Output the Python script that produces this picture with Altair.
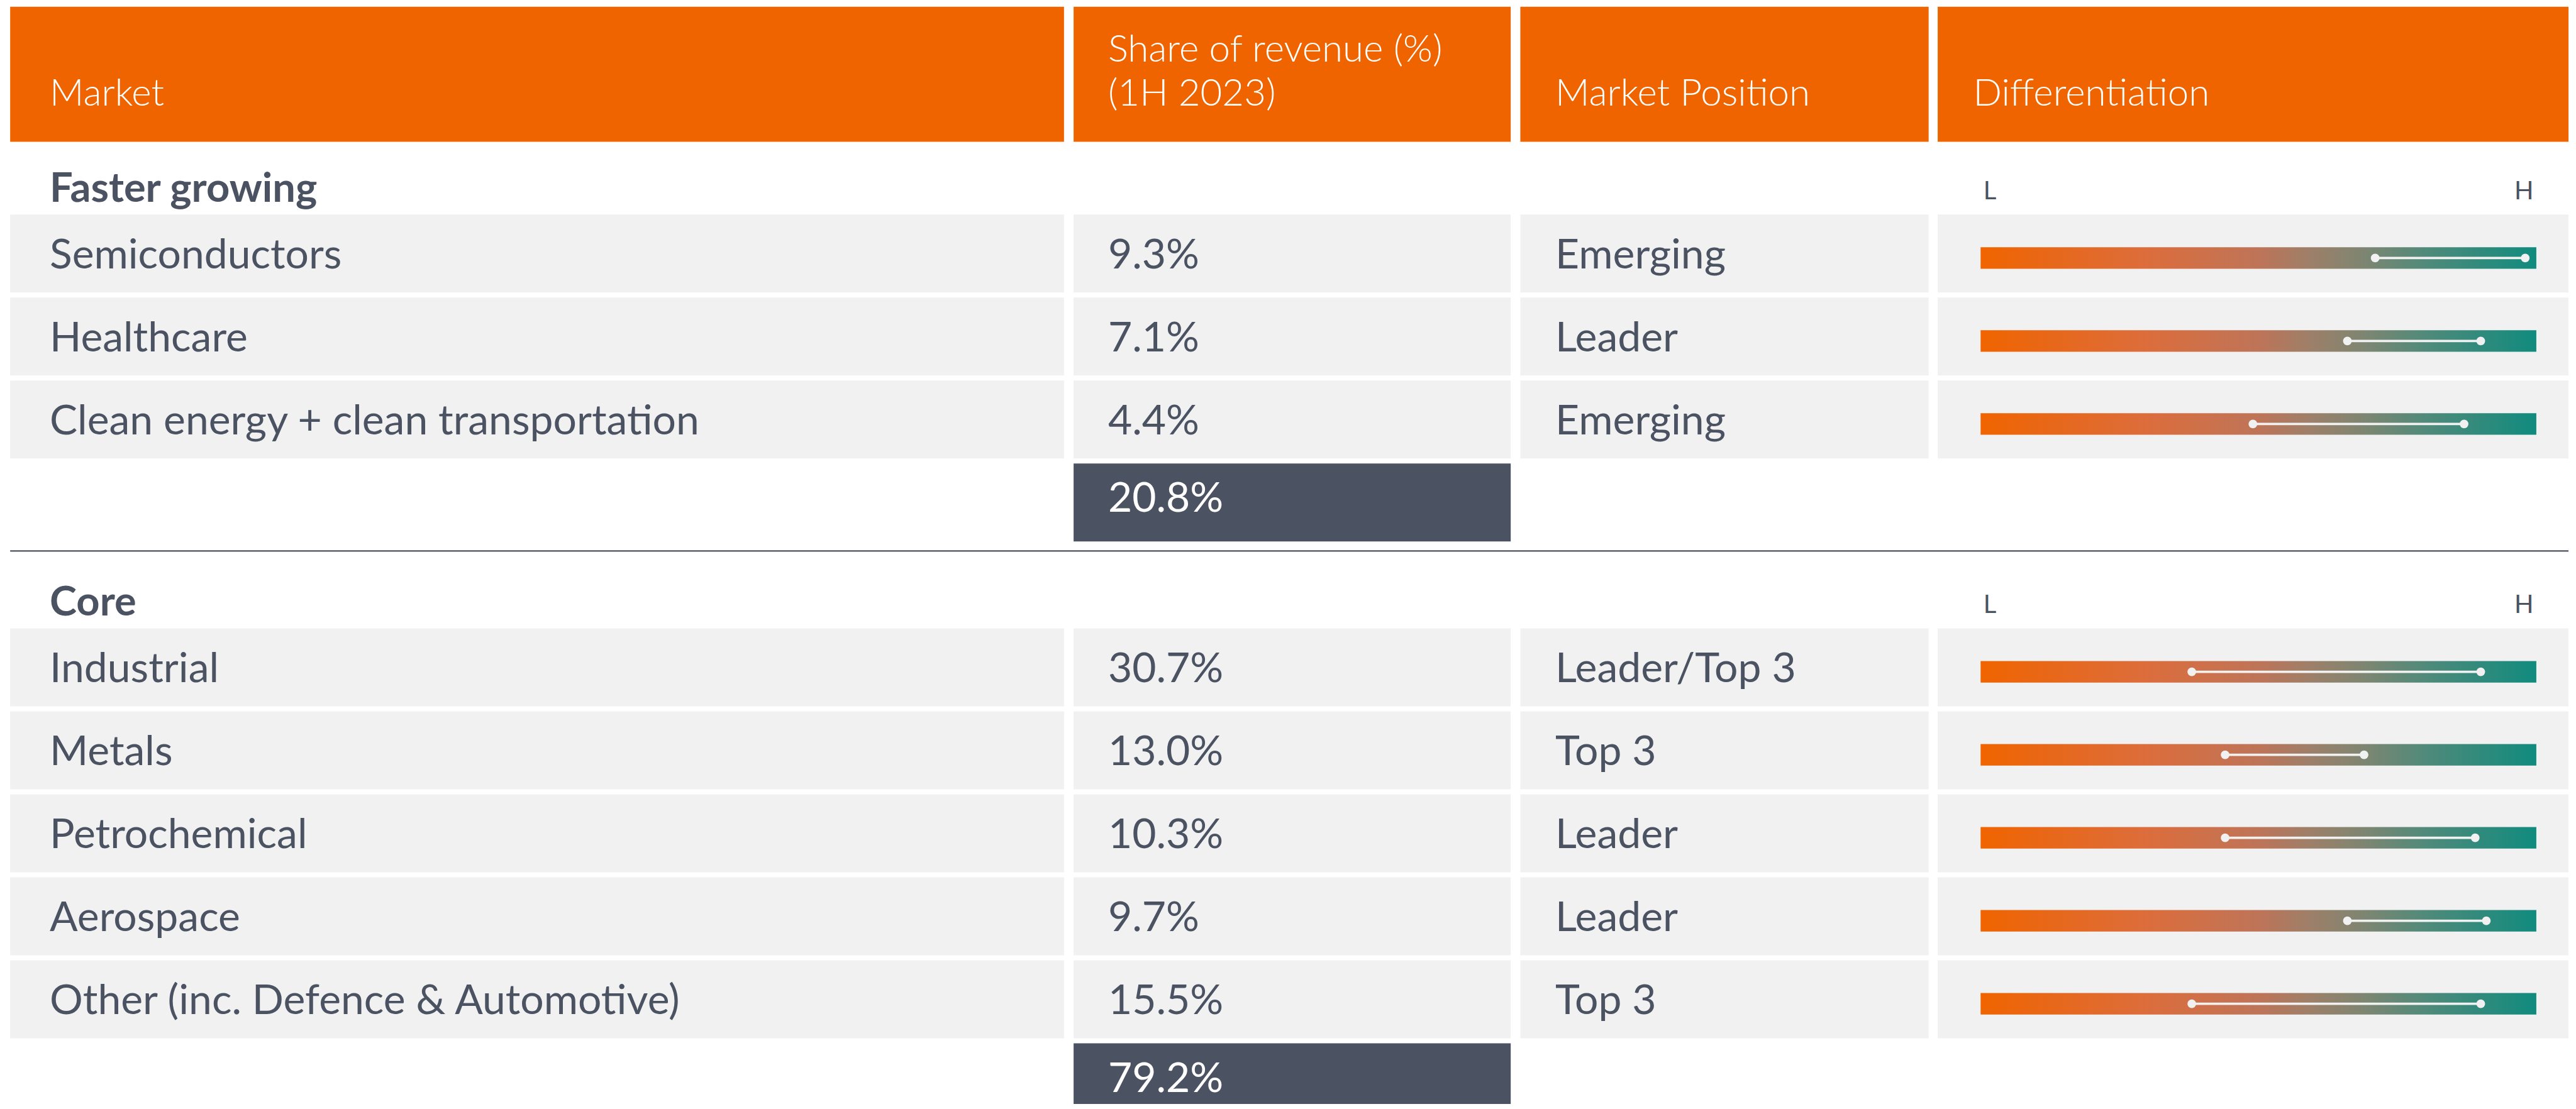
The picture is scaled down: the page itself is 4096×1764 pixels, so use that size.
import altair as alt
import pandas as pd

# ---------------- data ----------------
header_lines = [["Market"], ["Share of revenue (%)", "(1H 2023)"], ["Market Position"], ["Differentiation"]]
section_titles = ["Faster growing", "Core"]
scale_labels = ["L", "H"]

markets_fast = ["Semiconductors", "Healthcare", "Clean energy + clean transportation"]
share_fast = [9.3, 7.1, 4.4]
position_fast = ["Emerging", "Leader", "Emerging"]
diff_lo_fast = [7.1, 6.6, 4.9]
diff_hi_fast = [9.8, 9.0, 8.7]
total_fast = 20.8

markets_core = ["Industrial", "Metals", "Petrochemical", "Aerospace", "Other (inc. Defence & Automotive)"]
share_core = [30.7, 13.0, 10.3, 9.7, 15.5]
position_core = ["Leader/Top 3", "Top 3", "Leader", "Leader", "Top 3"]
diff_lo_core = [3.8, 4.4, 4.4, 6.6, 3.8]
diff_hi_core = [9.0, 6.9, 8.9, 9.1, 9.0]
total_core = 79.2

# ---------------- layout (reference pixel units) ----------------
S = 0.898
PAGE = 8
W, H = 4080, 1748
X0 = PAGE / S
X1 = X0 + W / S
Y0 = PAGE / S
Y1 = Y0 + H / S

COL_L = [18, 1901, 2692, 3431]
COL_R = [1884, 2675, 3415, 4548]
TEXT_X = [88, 1962, 2754, 3494]
HEAD_T, HEAD_B = 12, 251
HEAD_BASE, HEAD_LH = 187, 78
SEC_START = [380, 1113]
ROW_H, PITCH = 138, 147
TXT_OFF = 95
TOT_TXT_OFF = 86
BAR_L, BAR_R, BAR_H, BAR_OFF = 3507, 4491, 38, 77
SEP_Y = 976

ORANGE = "#F06400"
INK = "#4B5262"
CELL = "#F0F1F0"
FONT = "Lato"

xs = alt.Scale(domain=[X0, X1], nice=False, zero=False)
ys = alt.Scale(domain=[Y0, Y1], nice=False, zero=False, reverse=True)

def X(f):
    return alt.X(f"{f}:Q", scale=xs, axis=None)

def Y(f):
    return alt.Y(f"{f}:Q", scale=ys, axis=None)

# ---------------- tables ----------------
sections = [
    (markets_fast, share_fast, position_fast, diff_lo_fast, diff_hi_fast, total_fast),
    (markets_core, share_core, position_core, diff_lo_core, diff_hi_core, total_core),
]

cells, body_txt, diffs, totals, sec_txt, lh_txt = [], [], [], [], [], []
for s, (mk, sh, po, lo, hi, tot) in enumerate(sections):
    start = SEC_START[s]
    sec_txt.append({"x": TEXT_X[0], "y": start - 23, "t": section_titles[s]})
    lh_txt.append({"x": BAR_L + 5, "y": start - 27, "t": scale_labels[0], "al": "left"})
    lh_txt.append({"x": BAR_R - 5, "y": start - 27, "t": scale_labels[1], "al": "right"})
    for i in range(len(mk)):
        top = start + i * PITCH
        for c in range(4):
            cells.append({"x1": COL_L[c], "x2": COL_R[c], "y1": top, "y2": top + ROW_H})
        for c, t in enumerate([mk[i], f"{sh[i]:.1f}%", po[i]]):
            body_txt.append({"x": TEXT_X[c], "y": top + TXT_OFF, "t": t})
        diffs.append({"cy": top + BAR_OFF, "lo": lo[i], "hi": hi[i]})
    ttop = start + len(mk) * PITCH
    totals.append({"x1": COL_L[1], "x2": COL_R[1], "y1": ttop, "y2": ttop + ROW_H,
                   "x": TEXT_X[1], "y": ttop + TOT_TXT_OFF, "t": f"{tot:.1f}%"})

heads, head_txt = [], []
for c, lines in enumerate(header_lines):
    heads.append({"x1": COL_L[c], "x2": COL_R[c], "y1": HEAD_T, "y2": HEAD_B})
    n = len(lines)
    for k, ln in enumerate(lines):
        head_txt.append({"x": TEXT_X[c], "y": HEAD_BASE - (n - 1 - k) * HEAD_LH, "t": ln})

cells = pd.DataFrame(cells)
body_txt = pd.DataFrame(body_txt)
diffs = pd.DataFrame(diffs)
totals = pd.DataFrame(totals)
sec_txt = pd.DataFrame(sec_txt)
lh_txt = pd.DataFrame(lh_txt)
heads = pd.DataFrame(heads)
head_txt = pd.DataFrame(head_txt)
sep = pd.DataFrame([{"x1": COL_L[0], "x2": COL_R[3], "y": SEP_Y}])

def rects(df, color):
    return alt.Chart(df).mark_rect(color=color).encode(x=X("x1"), x2="x2", y=Y("y1"), y2="y2")

def texts(df, size, weight, color, align="left"):
    return alt.Chart(df).mark_text(font=FONT, fontSize=size, fontWeight=weight, color=color,
                                   align=align, baseline="alphabetic").encode(
        x=X("x"), y=Y("y"), text="t:N")

head_layer = rects(heads, ORANGE)
head_text = texts(head_txt, 60, 300, "white")
cell_layer = rects(cells, CELL)
body_text = texts(body_txt, 66, 400, INK)
sec_text = texts(sec_txt, 65, 700, INK)
lh_l = texts(lh_txt[lh_txt["al"] == "left"], 40, 400, INK, "left")
lh_r = texts(lh_txt[lh_txt["al"] == "right"], 40, 400, INK, "right")
tot_layer = rects(totals, INK)
tot_text = texts(totals, 66, 400, "white")

grad = alt.LinearGradient(
    gradient="linear", x1=0, x2=1, y1=0, y2=0,
    stops=[
        alt.GradientStop(color="#F06400", offset=0),
        alt.GradientStop(color="#DC6D3C", offset=0.3),
        alt.GradientStop(color="#BE7458", offset=0.5),
        alt.GradientStop(color="#9B806A", offset=0.6),
        alt.GradientStop(color="#7A8672", offset=0.7),
        alt.GradientStop(color="#508A7A", offset=0.8),
        alt.GradientStop(color="#108B7E", offset=1),
    ],
)

span = BAR_R - BAR_L
dbase = alt.Chart(diffs).transform_calculate(
    bl=f"{BAR_L}", br=f"{BAR_R}",
    by1=f"datum.cy - {BAR_H / 2}", by2=f"datum.cy + {BAR_H / 2}",
    xlo=f"{BAR_L} + datum.lo / 10 * {span}",
    xhi=f"{BAR_L} + datum.hi / 10 * {span}",
)
bars = dbase.mark_rect(color=grad).encode(x=X("bl"), x2="br:Q", y=Y("by1"), y2="by2:Q")
links = dbase.mark_rule(color=CELL, strokeWidth=3.6).encode(x=X("xlo"), x2="xhi:Q", y=Y("cy"))
dots_lo = dbase.mark_circle(color=CELL, opacity=1, size=190).encode(x=X("xlo"), y=Y("cy"))
dots_hi = dbase.mark_circle(color=CELL, opacity=1, size=190).encode(x=X("xhi"), y=Y("cy"))

sep_layer = alt.Chart(sep).mark_rule(color=INK, strokeWidth=2.2).encode(x=X("x1"), x2="x2:Q", y=Y("y"))

chart = alt.layer(
    head_layer, head_text, cell_layer, body_text, sec_text, lh_l, lh_r,
    tot_layer, tot_text, bars, links, dots_lo, dots_hi, sep_layer,
).properties(
    width=W, height=H, padding=0,
    autosize=alt.AutoSizeParams(type="none"),
    background="white",
).configure_view(strokeWidth=0)

chart.save("out.html", embed_options={"renderer": "svg", "actions": False})
